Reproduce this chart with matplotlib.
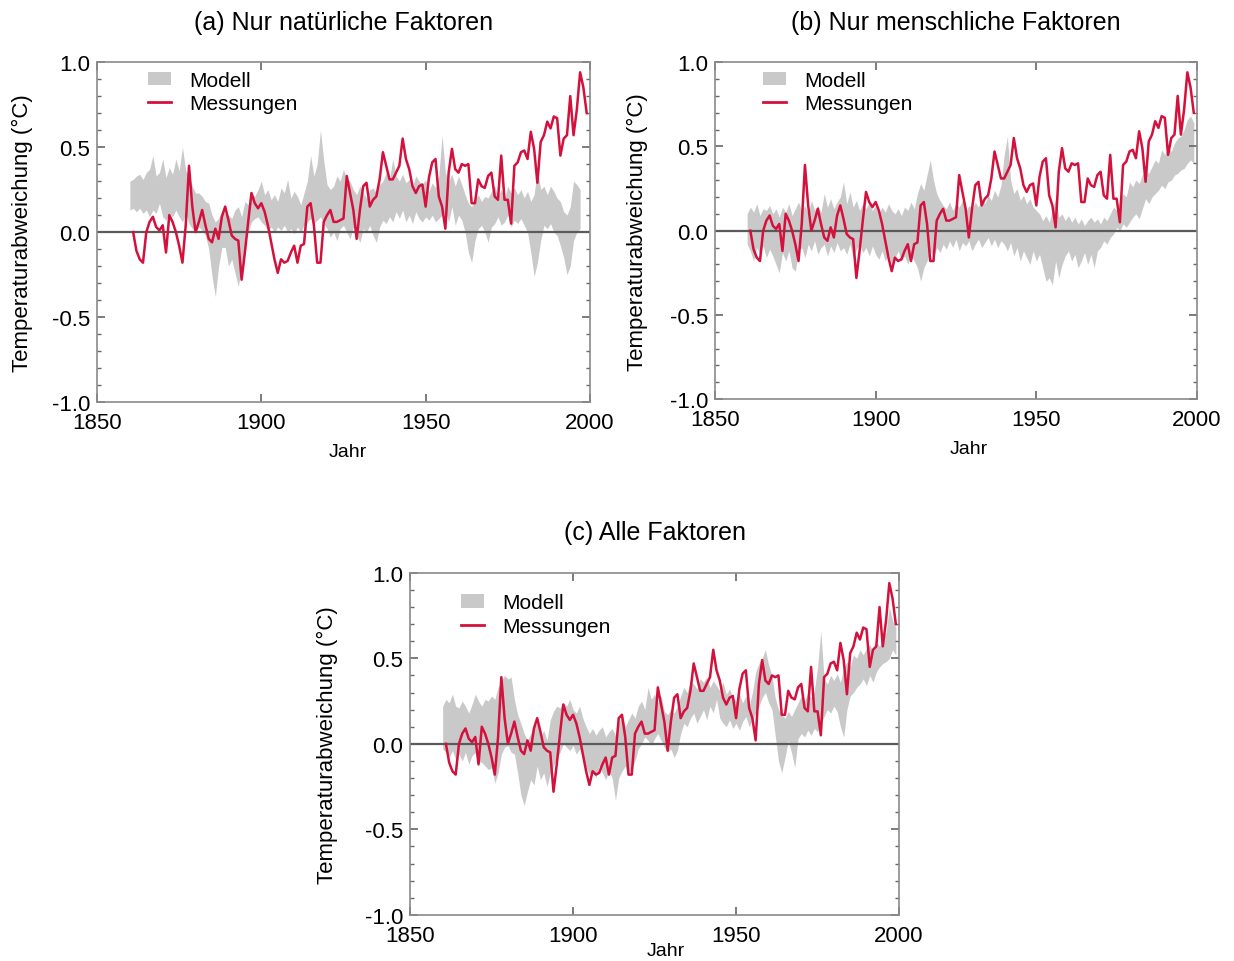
import numpy as np
import matplotlib
matplotlib.use('Agg')
import matplotlib.pyplot as plt
from matplotlib.patches import Patch
from matplotlib.lines import Line2D
from matplotlib.ticker import MultipleLocator, FormatStrFormatter

plt.rcParams['font.family'] = ['Liberation Sans', 'DejaVu Sans']

# observed annual temperature anomaly (°C), 1861-1999
obs_years = list(range(1861, 2000))
obs = [
    0.00, -0.11, -0.16, -0.18, 0.00, 0.06, 0.09, 0.03, 0.01, 0.04,
    -0.12, 0.10, 0.06, 0.00, -0.08, -0.18, 0.04, 0.39, 0.15, 0.00,
    0.06, 0.13, 0.04, -0.04, -0.06, 0.02, -0.04, 0.09, 0.15, 0.07,
    -0.02, -0.04, -0.05, -0.28, -0.12, 0.06, 0.23, 0.17, 0.14, 0.17,
    0.12, 0.04, -0.06, -0.16, -0.24, -0.16, -0.18, -0.17, -0.12, -0.08,
    -0.18, -0.08, -0.07, 0.15, 0.17, 0.04, -0.18, -0.18, 0.06, 0.10,
    0.13, 0.06, 0.06, 0.07, 0.08, 0.33, 0.23, 0.13, -0.04, 0.13,
    0.27, 0.29, 0.15, 0.19, 0.21, 0.31, 0.47, 0.39, 0.31, 0.31,
    0.35, 0.39, 0.55, 0.43, 0.37, 0.27, 0.23, 0.27, 0.28, 0.15,
    0.32, 0.41, 0.43, 0.21, 0.15, 0.02, 0.35, 0.49, 0.37, 0.35,
    0.40, 0.39, 0.40, 0.17, 0.17, 0.31, 0.27, 0.26, 0.33, 0.35,
    0.21, 0.19, 0.45, 0.19, 0.19, 0.05, 0.39, 0.41, 0.47, 0.48,
    0.43, 0.59, 0.49, 0.29, 0.53, 0.57, 0.65, 0.61, 0.68, 0.67,
    0.45, 0.55, 0.57, 0.80, 0.57, 0.72, 0.94, 0.85, 0.70,
]

# model ensemble range, natural forcing only, 1860-1997
nat_years = list(range(1860, 1998))
nat_hi = [
    0.30, 0.31, 0.33, 0.34, 0.31, 0.35, 0.37, 0.45, 0.33, 0.35,
    0.43, 0.32, 0.38, 0.34, 0.43, 0.36, 0.50, 0.36, 0.33, 0.27,
    0.23, 0.23, 0.21, 0.18, 0.17, 0.10, 0.06, 0.08, 0.13, 0.11,
    0.10, 0.08, 0.13, 0.15, 0.09, 0.18, 0.16, 0.23, 0.21, 0.25,
    0.30, 0.22, 0.25, 0.19, 0.22, 0.18, 0.26, 0.23, 0.31, 0.20,
    0.24, 0.21, 0.16, 0.23, 0.30, 0.45, 0.33, 0.40, 0.60, 0.42,
    0.28, 0.25, 0.27, 0.33, 0.30, 0.37, 0.31, 0.30, 0.25, 0.22,
    0.27, 0.23, 0.20, 0.25, 0.26, 0.23, 0.28, 0.30, 0.35, 0.31,
    0.43, 0.33, 0.30, 0.34, 0.29, 0.31, 0.27, 0.33, 0.30, 0.28,
    0.31, 0.24, 0.29, 0.26, 0.33, 0.57, 0.35, 0.30, 0.34, 0.27,
    0.33, 0.28, 0.22, 0.17, 0.15, 0.19, 0.22, 0.18, 0.21, 0.20,
    0.24, 0.27, 0.21, 0.25, 0.20, 0.27, 0.23, 0.26, 0.22, 0.25,
    0.20, 0.24, 0.18, 0.22, 0.37, 0.25, 0.27, 0.22, 0.27, 0.24,
    0.20, 0.18, 0.12, 0.10, 0.15, 0.30, 0.28, 0.25,
]
nat_lo = [
    0.13, 0.14, 0.12, 0.14, 0.11, 0.13, 0.09, 0.13, 0.11, 0.17,
    0.09, 0.07, 0.11, 0.09, 0.13, 0.09, 0.06, 0.11, 0.05, 0.02,
    0.00, 0.03, 0.01, -0.02, -0.10, -0.26, -0.38, -0.20, -0.09, -0.09,
    -0.20, -0.16, -0.24, -0.32, -0.20, -0.08, 0.00, 0.06, 0.08, 0.09,
    0.06, 0.04, 0.01, 0.03, 0.00, 0.03, 0.01, 0.04, 0.00, 0.02,
    -0.01, 0.03, 0.00, 0.04, 0.06, 0.08, 0.05, 0.07, 0.09, 0.05,
    0.02, -0.03, 0.00, -0.05, 0.02, 0.04, 0.00, -0.04, 0.03, -0.02,
    -0.06, 0.02, 0.00, 0.04, -0.02, -0.06, 0.03, 0.07, 0.05, 0.09,
    0.06, 0.12, 0.08, 0.13, 0.06, 0.10, 0.05, 0.12, 0.08, 0.06,
    0.09, 0.07, 0.10, 0.06, 0.08, 0.10, 0.12, 0.06, 0.15, 0.04,
    0.10, 0.07, 0.00, -0.12, -0.18, -0.05, 0.02, 0.04, 0.00, -0.06,
    0.03, 0.05, 0.09, 0.04, 0.06, 0.10, 0.03, 0.07, 0.05, 0.08,
    0.04, 0.00, -0.12, -0.26, -0.18, -0.05, 0.04, 0.02, 0.05, 0.00,
    -0.02, -0.08, -0.15, -0.25, -0.20, -0.05, 0.00, 0.02,
]

# model ensemble range, anthropogenic forcing only, 1860-1999
ant_years = list(range(1860, 2000))
ant_hi = [
    0.10, 0.14, 0.11, 0.16, 0.09, 0.13, 0.12, 0.15, 0.10, 0.13,
    0.08, 0.14, 0.11, 0.16, 0.09, 0.13, 0.17, 0.12, 0.15, 0.10,
    0.18, 0.12, 0.15, 0.11, 0.22, 0.14, 0.19, 0.13, 0.17, 0.20,
    0.29, 0.16, 0.23, 0.14, 0.18, 0.12, 0.16, 0.13, 0.17, 0.12,
    0.15, 0.10, 0.14, 0.11, 0.16, 0.12, 0.10, 0.13, 0.09, 0.14,
    0.12, 0.17, 0.13, 0.22, 0.28, 0.24, 0.33, 0.42, 0.30, 0.22,
    0.18, 0.15, 0.13, 0.17, 0.12, 0.16, 0.14, 0.18, 0.11, 0.15,
    0.13, 0.17, 0.14, 0.19, 0.16, 0.21, 0.18, 0.24, 0.20, 0.27,
    0.45, 0.56, 0.30, 0.22, 0.25, 0.18, 0.21, 0.16, 0.19, 0.14,
    0.12, 0.10, 0.06, 0.09, 0.05, 0.12, 0.19, 0.08, 0.10, 0.06,
    0.09, 0.05, 0.08, 0.04, 0.07, 0.03, 0.06, 0.08, 0.05, 0.07,
    0.04, 0.08, 0.06, 0.10, 0.14, 0.12, 0.18, 0.22, 0.20, 0.29,
    0.26, 0.30, 0.28, 0.33, 0.36, 0.34, 0.38, 0.42, 0.40, 0.48,
    0.45, 0.50, 0.47, 0.52, 0.55, 0.56, 0.60, 0.66, 0.68, 0.64,
]
ant_lo = [
    -0.08, -0.12, -0.18, -0.10, -0.14, -0.09, -0.16, -0.11, -0.15, -0.20,
    -0.25, -0.13, -0.18, -0.12, -0.22, -0.24, -0.12, -0.10, -0.16, -0.08,
    -0.12, -0.06, -0.14, -0.10, -0.08, -0.15, -0.09, -0.13, -0.07, -0.12,
    -0.10, -0.14, -0.08, -0.16, -0.11, -0.08, -0.13, -0.10, -0.15, -0.09,
    -0.14, -0.17, -0.12, -0.18, -0.14, -0.20, -0.16, -0.12, -0.18, -0.15,
    -0.20, -0.14, -0.18, -0.22, -0.30, -0.22, -0.18, -0.12, -0.16, -0.10,
    -0.13, -0.08, -0.11, -0.06, -0.10, -0.05, -0.12, -0.07, -0.09, -0.06,
    -0.12, -0.08, -0.05, -0.10, -0.07, -0.04, -0.09, -0.05, -0.10, -0.06,
    -0.08, -0.12, -0.07, -0.15, -0.10, -0.18, -0.12, -0.16, -0.20, -0.12,
    -0.18, -0.14, -0.22, -0.30, -0.28, -0.32, -0.18, -0.28, -0.20, -0.15,
    -0.12, -0.18, -0.14, -0.22, -0.18, -0.13, -0.20, -0.14, -0.22, -0.12,
    -0.10, -0.06, -0.08, -0.04, -0.02, 0.02, 0.00, 0.04, 0.02, 0.05,
    0.08, 0.10, 0.07, 0.13, 0.19, 0.16, 0.20, 0.22, 0.24, 0.27,
    0.25, 0.29, 0.30, 0.33, 0.34, 0.36, 0.37, 0.40, 0.42, 0.40,
]

# model ensemble range, all forcings, 1860-1999
all_years = list(range(1860, 2000))
all_hi = [
    0.22, 0.26, 0.24, 0.29, 0.22, 0.21, 0.25, 0.22, 0.18, 0.23,
    0.29, 0.25, 0.22, 0.26, 0.25, 0.28, 0.26, 0.33, 0.37, 0.40,
    0.38, 0.39, 0.26, 0.17, 0.12, 0.06, 0.02, 0.06, 0.10, 0.12,
    0.04, 0.08, 0.02, 0.14, 0.19, 0.22, 0.21, 0.24, 0.22, 0.26,
    0.20, 0.18, 0.22, 0.15, 0.10, 0.06, 0.09, 0.05, 0.08, 0.10,
    0.04, 0.07, 0.09, 0.05, 0.12, 0.17, 0.10, 0.14, 0.18, 0.15,
    0.22, 0.25, 0.20, 0.33, 0.26, 0.29, 0.24, 0.28, 0.19, 0.17,
    0.20, 0.18, 0.22, 0.28, 0.33, 0.30, 0.37, 0.35, 0.32, 0.38,
    0.36, 0.39, 0.33, 0.37, 0.34, 0.31, 0.36, 0.29, 0.32, 0.27,
    0.25, 0.29, 0.24, 0.28, 0.22, 0.30, 0.42, 0.47, 0.50, 0.55,
    0.46, 0.40, 0.27, 0.20, 0.17, 0.15, 0.19, 0.16, 0.20, 0.24,
    0.28, 0.25, 0.30, 0.27, 0.31, 0.45, 0.66, 0.38, 0.35, 0.40,
    0.37, 0.41, 0.36, 0.44, 0.48, 0.45, 0.52, 0.50, 0.55, 0.52,
    0.56, 0.58, 0.54, 0.60, 0.57, 0.62, 0.65, 0.80, 0.72, 0.68,
]
all_lo = [
    -0.03, -0.05, -0.08, -0.04, -0.09, -0.06, -0.10, -0.05, -0.12, -0.07,
    -0.05, -0.10, -0.11, -0.13, -0.15, -0.14, -0.23, -0.17, -0.06, -0.02,
    -0.01, -0.05, -0.06, -0.17, -0.30, -0.36, -0.28, -0.21, -0.24, -0.13,
    -0.21, -0.17, -0.25, -0.17, -0.13, -0.08, -0.05, 0.00, -0.02, -0.04,
    -0.01, -0.06, -0.03, -0.08, -0.14, -0.18, -0.15, -0.20, -0.13, -0.17,
    -0.21, -0.16, -0.20, -0.33, -0.20, -0.16, -0.13, -0.18, -0.14, -0.10,
    -0.03, 0.00, 0.04, 0.02, -0.01, 0.03, 0.06, 0.02, -0.02, -0.05,
    -0.03, -0.08, -0.04, 0.06, 0.12, 0.10, 0.15, 0.18, 0.12, 0.16,
    0.20, 0.14, 0.22, 0.18, 0.26, 0.15, 0.12, 0.10, 0.14, 0.09,
    0.12, 0.08, 0.13, 0.16, 0.10, 0.14, 0.18, 0.22, 0.27, 0.30,
    0.24, 0.20, 0.05, -0.10, -0.17, -0.08, 0.02, -0.05, -0.14, 0.03,
    0.06, 0.04, 0.08, 0.05, 0.09, 0.07, 0.12, 0.16, 0.20, 0.18,
    0.22, 0.19, 0.10, 0.04, 0.20, 0.28, 0.30, 0.33, 0.35, 0.38,
    0.34, 0.40, 0.36, 0.42, 0.45, 0.47, 0.48, 0.50, 0.55, 0.52,
]

panels = [
    ('(a) Nur natürliche Faktoren', nat_years, nat_lo, nat_hi),
    ('(b) Nur menschliche Faktoren', ant_years, ant_lo, ant_hi),
    ('(c) Alle Faktoren', all_years, all_lo, all_hi),
]

# axes boxes in figure fractions [left, bottom, width, height]
boxes = [
    [0.0786, 0.581, 0.3995, 0.3534],
    [0.5794, 0.584, 0.3906, 0.3503],
    [0.3323, 0.048, 0.3963, 0.3555],
]
ylabel_x = [-0.13, -0.139, -0.147]
xlabel_pos = [(0.509, -0.12), (0.527, -0.122), (0.523, -0.079)]
legend_anchor = [(0.065, 1.03), (0.06, 1.03), (0.065, 0.995)]

red = '#d4103c'
grey = '#c9c9c9'

fig = plt.figure(figsize=(12.34, 9.62), dpi=100)

for i, (title, yrs, lo, hi) in enumerate(panels):
    ax = fig.add_axes(boxes[i])
    ax.fill_between(yrs, lo, hi, color=grey, lw=0, zorder=1)
    ax.axhline(0, color='#5a5a5a', lw=1.6, zorder=2)
    ax.plot(obs_years, obs, color=red, lw=1.8, zorder=3)

    ax.set_xlim(1850, 2000)
    ax.set_ylim(-1.0, 1.0)
    ax.set_xticks([1850, 1900, 1950, 2000])
    ax.set_yticks([-1.0, -0.5, 0.0, 0.5, 1.0])
    ax.yaxis.set_major_formatter(FormatStrFormatter('%.1f'))
    ax.yaxis.set_minor_locator(MultipleLocator(0.1))
    ax.tick_params(which='both', direction='in', top=True, right=True,
                   colors='#666666', labelcolor='black', labelsize=16)
    ax.tick_params(which='major', length=6, width=1.2)
    ax.tick_params(which='minor', length=3, width=1)
    ax.tick_params(axis='x', pad=7)
    ax.tick_params(axis='y', pad=5)
    for sp in ax.spines.values():
        sp.set_color('#8a8a8a')
        sp.set_linewidth(1.2)

    ax.set_title(title, fontsize=18, pad=24)
    ax.set_ylabel('Temperaturabweichung (°C)', fontsize=16)
    ax.yaxis.set_label_coords(ylabel_x[i], 0.5)
    ax.set_xlabel('Jahr', fontsize=14)
    ax.xaxis.set_label_coords(*xlabel_pos[i])

    handles = [Patch(facecolor=grey, edgecolor='none'),
               Line2D([0], [0], color=red, lw=2)]
    ax.legend(handles, ['Modell', 'Messungen'], loc='upper left',
              bbox_to_anchor=legend_anchor[i], frameon=False, fontsize=15,
              handlelength=1.1, handleheight=0.6, handletextpad=0.9,
              labelspacing=0.22)

fig.savefig('out.png', dpi=100)
